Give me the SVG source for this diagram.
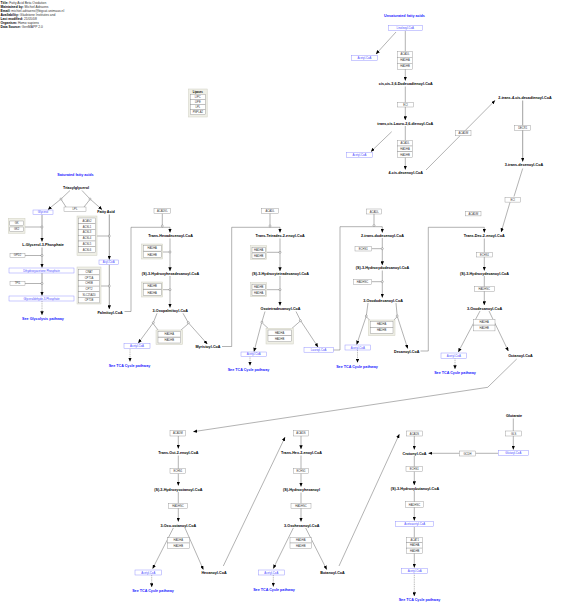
<svg xmlns="http://www.w3.org/2000/svg" width="563" height="607" viewBox="0 0 563 607">
<defs>
<marker id="ar" markerUnits="userSpaceOnUse" markerWidth="4" markerHeight="3.4" refX="3.8" refY="1.7" orient="auto"><path d="M0,0 L4,1.7 L0,3.4 z" fill="#000"/></marker>
<style>
text{font-family:"Liberation Sans",Arial,sans-serif}
.n{font-weight:bold;font-size:3.7px;text-anchor:middle;fill:#000}
.bl{font-weight:bold;font-size:3.7px;text-anchor:middle;fill:#1a1aff}
.h{font-size:3.3px;fill:#333}
.h tspan.k{font-weight:bold;fill:#000}
.g rect{fill:#fff;stroke:#8a8a8a;stroke-width:0.4}
.g text,.gt{font-size:2.7px;text-anchor:middle;fill:#333}
.m rect{fill:#fff;stroke:#8c8cff;stroke-width:0.45}
.m text{font-size:2.8px;text-anchor:middle;fill:#4a4aff}
.grp{fill:#efefe6;stroke:#cfcfc2;stroke-width:0.5}
.c path,.c line{fill:none;stroke:#555;stroke-width:0.45}
.c .th{stroke:#888;stroke-width:0.8}
.c .d{stroke-dasharray:1,0.8}
.c circle{fill:#fff;stroke:#555;stroke-width:0.4}
</style>
</defs>
<rect width="563" height="607" fill="#fff"/>

<g id="header">
<text class="h" x="0.5" y="4.3"><tspan class="k">Title: </tspan>Fatty Acid Beta Oxidation</text>
<text class="h" x="0.5" y="8.3"><tspan class="k">Maintained by: </tspan>Michiel Adriaens</text>
<text class="h" x="0.5" y="12.3"><tspan class="k">Email: </tspan>michiel.adriaens@bigcat.unimaas.nl</text>
<text class="h" x="0.5" y="16.3"><tspan class="k">Availability: </tspan>Gladstone Institutes and</text>
<text class="h" x="0.5" y="20.3"><tspan class="k">Last modified: </tspan>21/05/08</text>
<text class="h" x="0.5" y="24.3"><tspan class="k">Organism: </tspan>Homo sapiens</text>
<text class="h" x="0.5" y="28.3"><tspan class="k">Data Source: </tspan>GenMAPP 2.0</text>
</g>

<g id="connectors" class="c">
<path d="M70,190.5 L61,199 L48,209.5" marker-end="url(#ar)"/>
<path d="M82,190.5 L90,199 L102,209.5" marker-end="url(#ar)"/>
<path d="M66,207 L61.5,200"/>
<path d="M84,207 L89.5,200"/>
<path class="th" d="M42,214.5 L42,241.5" marker-end="url(#ar)"/>
<path d="M25,227 L41,227"/>
<path class="th" d="M42,247.5 L42,267.5" marker-end="url(#ar)"/>
<path d="M25,255.5 L41,255.5"/>
<path class="th" d="M42,273 L42,295.5" marker-end="url(#ar)"/>
<path d="M25,283.5 L41,283.5"/>
<path class="d" d="M42,301 L42,315" marker-end="url(#ar)"/>
<path class="th" d="M109.3,214.5 L109.3,259.5" marker-end="url(#ar)"/>
<path d="M97,236 L108.3,236"/>
<path class="th" d="M109.3,264.5 L109.3,309" marker-end="url(#ar)"/>
<path d="M101,286 L108.3,286"/>
<path d="M124.5,311.5 L131,311.5 L131,227.3 L170,227.3 L170,232.5" marker-end="url(#ar)"/>
<path d="M162.3,213.5 L162.3,225"/>
<path d="M170,238.5 L170,271" marker-end="url(#ar)"/>
<path d="M162.7,252 L169,252"/>
<path d="M170,276 L170,307.5" marker-end="url(#ar)"/>
<path d="M162.7,289.7 L169,289.7"/>
<path d="M157,313.3 L153.3,322.7 L138.3,343" marker-end="url(#ar)"/>
<path d="M183,313.3 L188.3,322.7 L207.3,344" marker-end="url(#ar)"/>
<path d="M158,330 L153.3,323.8"/>
<path d="M181,330 L188.2,323.8"/>
<path class="d" d="M130,348.7 L130,361.5" marker-end="url(#ar)"/>
<path d="M222,346.5 L231.7,346.5 L231.7,227.3 L280,227.3 L280,232.5" marker-end="url(#ar)"/>
<path d="M270,213.3 L270,225"/>
<path d="M280,238.5 L280,271" marker-end="url(#ar)"/>
<path d="M266.7,252.3 L279,252.3"/>
<path d="M280,276 L280,305.5" marker-end="url(#ar)"/>
<path d="M266.7,289.7 L279,289.7"/>
<path d="M265,311.5 L261.7,322.5 L254,351.5" marker-end="url(#ar)"/>
<path d="M296,311.5 L300.5,320.5 L318,347" marker-end="url(#ar)"/>
<path d="M268,328.3 L262.5,323.2"/>
<path d="M292,328.3 L299.8,321.5"/>
<path class="d" d="M250,356.5 L250,365.5" marker-end="url(#ar)"/>
<path d="M333.3,350 L340,350 L340,226.7 L382.3,226.7 L382.3,232.5" marker-end="url(#ar)"/>
<path d="M374,214 L374,224.5"/>
<path d="M382.3,238 L382.3,265" marker-end="url(#ar)"/>
<path d="M371.7,248.7 L381.3,248.7"/>
<path d="M382.3,270.5 L382.3,297.5" marker-end="url(#ar)"/>
<path d="M371.7,281.7 L381.3,281.7"/>
<path d="M368,303 L366.3,316 L356.7,344.5" marker-end="url(#ar)"/>
<path d="M396,303 L397.2,316 L407.7,348.5" marker-end="url(#ar)"/>
<path d="M369.5,320 L366.6,317"/>
<path d="M394,320 L396.8,317"/>
<path class="d" d="M357.5,350 L357.5,362.5" marker-end="url(#ar)"/>
<path d="M420.5,351 L428.3,351 L428.3,227.3 L484.3,227.3 L484.3,232.5" marker-end="url(#ar)"/>
<path d="M510,202.3 L501.2,232" marker-end="url(#ar)"/>
<path d="M484.3,238.5 L484.3,270.5" marker-end="url(#ar)"/>
<path d="M484.3,276 L484.3,305" marker-end="url(#ar)"/>
<path d="M480,311 L458.3,352" marker-end="url(#ar)"/>
<path d="M489,311 L508.3,351" marker-end="url(#ar)"/>
<path class="d" d="M455,358.3 L455,369" marker-end="url(#ar)"/>
<path d="M516.7,359 L487.7,387.3 L193.3,431.7" marker-end="url(#ar)"/>
<path d="M178.3,436 L178.3,448.5" marker-end="url(#ar)"/>
<path d="M178.3,455.5 L178.3,485.5" marker-end="url(#ar)"/>
<path d="M178.3,492 L178.3,521.5" marker-end="url(#ar)"/>
<path d="M173.3,528 L152.7,568.5" marker-end="url(#ar)"/>
<path d="M185,528 L203.3,569.5" marker-end="url(#ar)"/>
<path class="d" d="M151.7,575 L151.7,587" marker-end="url(#ar)"/>
<path d="M223.3,566 L285,437.3" marker-end="url(#ar)"/>
<path d="M301,436 L301,449" marker-end="url(#ar)"/>
<path d="M301,455.5 L301,486.5" marker-end="url(#ar)"/>
<path d="M301,492.5 L301,521.5" marker-end="url(#ar)"/>
<path d="M293.3,528 L273.3,568.5" marker-end="url(#ar)"/>
<path d="M305.7,528 L326.7,569.5" marker-end="url(#ar)"/>
<path class="d" d="M273.3,575 L273.3,586.5" marker-end="url(#ar)"/>
<path d="M339,566 L399.3,434.3" marker-end="url(#ar)"/>
<path d="M414.3,436 L414.3,449.5" marker-end="url(#ar)"/>
<path d="M414.3,456 L414.3,485" marker-end="url(#ar)"/>
<path d="M414.3,491 L414.3,520.5" marker-end="url(#ar)"/>
<path d="M414.3,526.7 L414.3,567.5" marker-end="url(#ar)"/>
<path class="d" d="M414.3,573.3 L414.3,596" marker-end="url(#ar)"/>
<path d="M498.3,453.3 L428.5,453.3" marker-end="url(#ar)"/>
<path d="M513.3,418.5 L513.3,449.5" marker-end="url(#ar)"/>
<path d="M396,32 L376,54" marker-end="url(#ar)"/>
<path d="M405.3,30.7 L405.3,80.5" marker-end="url(#ar)"/>
<path d="M405.3,86.5 L405.3,120" marker-end="url(#ar)"/>
<path d="M391.7,131.7 L371,151.5" marker-end="url(#ar)"/>
<path d="M405.3,126 L405.3,169.5" marker-end="url(#ar)"/>
<path d="M426,170 L495,100.5" marker-end="url(#ar)"/>
<path class="th" d="M522.7,100.5 L522.7,161.5" marker-end="url(#ar)"/>
<path d="M522.7,168.5 L514,196.5"/>
<circle cx="61" cy="199" r="1"/>
<circle cx="90" cy="199" r="1"/>
<circle cx="42" cy="227" r="1"/>
<circle cx="42" cy="255.5" r="1"/>
<circle cx="42" cy="283.5" r="1"/>
<circle cx="109.3" cy="236" r="1"/>
<circle cx="109.3" cy="286" r="1"/>
<circle cx="162.3" cy="226" r="1"/>
<circle cx="170" cy="252" r="1"/>
<circle cx="170" cy="289.7" r="1"/>
<circle cx="153.3" cy="322.7" r="1"/>
<circle cx="188.3" cy="322.7" r="1"/>
<circle cx="270" cy="226" r="1"/>
<circle cx="280" cy="252.3" r="1"/>
<circle cx="280" cy="289.7" r="1"/>
<circle cx="261.9" cy="322.2" r="1"/>
<circle cx="300.4" cy="320.7" r="1"/>
<circle cx="374" cy="225.5" r="1"/>
<circle cx="382.3" cy="248.7" r="1"/>
<circle cx="382.3" cy="281.7" r="1"/>
<circle cx="366.3" cy="316" r="1"/>
<circle cx="397.2" cy="316" r="1"/>
</g>

<g id="lipases">
<rect class="grp" x="188.5" y="89" width="18.7" height="28"/>
<text class="gt" x="197.8" y="92.8" style="font-weight:bold;fill:#000">Lipases</text>
<g class="g">
<rect x="190.3" y="94.5" width="15" height="5"/><text x="197.8" y="97.9">LIPC</text>
<rect x="190.3" y="99.5" width="15" height="5"/><text x="197.8" y="102.9">LIPE</text>
<rect x="190.3" y="104.5" width="15" height="5"/><text x="197.8" y="107.9">LPL</text>
<rect x="190.3" y="109.5" width="15" height="5"/><text x="197.8" y="112.9">PNPLA2</text>
</g>
</g>

<g id="sat-title"><text class="bl" x="75.5" y="176">Saturated fatty acids</text></g>
<g id="triacylglycerol"><text class="n" x="76" y="189.3">Triacylglycerol</text></g>
<g id="lpl" class="g"><rect x="64" y="207" width="22" height="4.3"/><text x="75" y="210.1">LPL</text></g>
<g id="glycerol" class="m"><rect x="33" y="210" width="20" height="4.5"/><text x="43" y="213.2">Glycerol</text></g>
<g id="fatty-acid"><text class="n" x="106" y="213.3">Fatty Acid</text></g>
<g id="gk-group">
<rect class="grp" x="8.3" y="218.3" width="16.7" height="15"/>
<g class="g"><rect x="9.8" y="221" width="13.7" height="4.5"/><text x="16.6" y="224.2">GK</text>
<rect x="9.8" y="227" width="13.7" height="4.5"/><text x="16.6" y="230.2">GK2</text></g>
</g>
<g id="l-g3p"><text class="n" x="43" y="246.3">L-Glycerol-3-Phosphate</text></g>
<g id="gpd2" class="g"><rect x="10" y="253.2" width="15" height="4.5"/><text x="17.5" y="256.4">GPD2</text></g>
<g id="dhap" class="m"><rect x="9" y="268" width="65" height="5"/><text x="41.5" y="271.5">Dihydroxyacetone Phosphate</text></g>
<g id="tpi1" class="g"><rect x="10" y="281.2" width="15" height="4.5"/><text x="17.5" y="284.4">TPI1</text></g>
<g id="g3p" class="m"><rect x="9" y="296" width="65" height="5"/><text x="41.5" y="299.5">Glyceraldehyde-3-Phosphate</text></g>
<g id="see-glycolysis"><text class="bl" x="43" y="319.6">See Glycolysis pathway</text></g>

<g id="acsl-group">
<rect class="grp" x="77" y="216" width="20" height="39.5"/>
<g class="g">
<rect x="78.5" y="218" width="17" height="5.75"/><text x="87" y="221.9">ACAS2</text>
<rect x="78.5" y="223.75" width="17" height="5.75"/><text x="87" y="227.6">ACSL1</text>
<rect x="78.5" y="229.5" width="17" height="5.75"/><text x="87" y="233.4">ACSL3</text>
<rect x="78.5" y="235.25" width="17" height="5.75"/><text x="87" y="239.1">ACSL4</text>
<rect x="78.5" y="241" width="17" height="5.75"/><text x="87" y="244.9">ACSL5</text>
<rect x="78.5" y="246.75" width="17" height="5.75"/><text x="87" y="250.6">ACSL6</text>
</g>
</g>
<g id="acyl-coa" class="m"><rect x="99" y="260" width="19.5" height="4.5"/><text x="108.7" y="263.2">Acyl-CoA</text></g>
<g id="cpt-group">
<rect class="grp" x="77" y="267" width="24" height="37"/>
<g class="g">
<rect x="78.5" y="269.3" width="21" height="5.6"/><text x="89" y="273.1">CRAT</text>
<rect x="78.5" y="274.9" width="21" height="5.6"/><text x="89" y="278.7">CPT1A</text>
<rect x="78.5" y="280.5" width="21" height="5.6"/><text x="89" y="284.3">CHKB</text>
<rect x="78.5" y="286.1" width="21" height="5.6"/><text x="89" y="289.9">CPT2</text>
<rect x="78.5" y="291.7" width="21" height="5.6"/><text x="89" y="295.5">SLC25A20</text>
<rect x="78.5" y="297.3" width="21" height="5.6"/><text x="89" y="301.1">CPT1B</text>
</g>
</g>
<g id="palmitoyl-coa"><text class="n" x="110" y="313.6">Palmitoyl-CoA</text></g>

<g id="acadvl" class="g"><rect x="154" y="208.5" width="16.7" height="5"/><text x="162.3" y="212">ACADVL</text></g>
<g id="trans-hexadecenoyl"><text class="n" x="170.5" y="237.3">Trans-Hexadecenoyl-CoA</text></g>
<g id="grp-c16a"><rect class="grp" x="141.7" y="244" width="21" height="15"/>
<g class="g"><rect x="143.2" y="245.6" width="18" height="5.5"/><text x="152.2" y="249.3">HADHA</text>
<rect x="143.2" y="251.8" width="18" height="5.5"/><text x="152.2" y="255.5">HADHB</text></g></g>
<g id="s3-hydroxyhexadecanoyl"><text class="n" x="170.5" y="275">(S)-3-Hydroxyhexadecanoyl-CoA</text></g>
<g id="grp-c16b"><rect class="grp" x="141.7" y="282" width="21" height="15"/>
<g class="g"><rect x="143.2" y="283.6" width="18" height="5.5"/><text x="152.2" y="287.3">HADHB</text>
<rect x="143.2" y="289.8" width="18" height="5.5"/><text x="152.2" y="293.5">HADHA</text></g></g>
<g id="oxopalmitoyl"><text class="n" x="170.3" y="311.6">3-Oxopalmitoyl-CoA</text></g>
<g id="grp-c16c"><rect class="grp" x="156" y="330" width="26.7" height="14.5"/>
<g class="g"><rect x="158" y="331.5" width="22.7" height="5.5"/><text x="169.3" y="335.2">HADHA</text>
<rect x="158" y="337.5" width="22.7" height="5.5"/><text x="169.3" y="341.2">HADHB</text></g></g>
<g id="acetyl-c16" class="m"><rect x="124" y="343.7" width="26" height="5"/><text x="137" y="347.2">Acetyl-CoA</text></g>
<g id="tca-c16"><text class="bl" x="129.5" y="367">See TCA Cycle pathway</text></g>
<g id="myristoyl-coa"><text class="n" x="208" y="348">Myristoyl-CoA</text></g>

<g id="acadl-c14" class="g"><rect x="261.7" y="208.3" width="16.6" height="5"/><text x="270" y="211.8">ACADL</text></g>
<g id="trans-tetradec"><text class="n" x="280" y="237.3">Trans-Tetradec-2-enoyl-CoA</text></g>
<g id="grp-c14a"><rect class="grp" x="250.7" y="245.7" width="16" height="13.6"/>
<g class="g"><rect x="252" y="247.4" width="13.4" height="5.2"/><text x="258.7" y="251">HADHA</text>
<rect x="252" y="253" width="13.4" height="5.2"/><text x="258.7" y="256.6">HADHB</text></g></g>
<g id="s3-hydroxytetradecanoyl"><text class="n" x="280.5" y="275">(S)-3-Hydroxytetradecanoyl-CoA</text></g>
<g id="grp-c14b"><rect class="grp" x="250.7" y="282.7" width="16" height="14"/>
<g class="g"><rect x="252" y="284.4" width="13.4" height="5.2"/><text x="258.7" y="288">HADHB</text>
<rect x="252" y="290" width="13.4" height="5.2"/><text x="258.7" y="293.6">HADHA</text></g></g>
<g id="oxotetradecanoyl"><text class="n" x="280.5" y="309.6">Oxotetradecanoyl-CoA</text></g>
<g id="grp-c14c"><rect class="grp" x="266" y="328.3" width="27.3" height="15.7"/>
<g class="g"><rect x="268" y="330" width="23.3" height="5.8"/><text x="279.6" y="333.9">HADHA</text>
<rect x="268" y="335.8" width="23.3" height="5.8"/><text x="279.6" y="339.7">HADHB</text></g></g>
<g id="acetyl-c14" class="m"><rect x="241" y="352" width="25.5" height="4.5"/><text x="253.7" y="355.2">Acetyl-CoA</text></g>
<g id="tca-c14"><text class="bl" x="248.5" y="370.8">See TCA Cycle pathway</text></g>
<g id="lauroyl-coa" class="m"><rect x="304" y="347.5" width="29.3" height="4.7"/><text x="318.6" y="350.8">Lauroyl-CoA</text></g>

<g id="acadl-c12" class="g"><rect x="366.7" y="209" width="15" height="5"/><text x="374.2" y="212.5">ACADL</text></g>
<g id="trans-dodecenoyl"><text class="n" x="382.5" y="237">2-trans-dodecenoyl-CoA</text></g>
<g id="echs1-c12" class="g"><rect x="355" y="246.5" width="16.7" height="4.5"/><text x="363.3" y="249.7">ECHS1</text></g>
<g id="s3-hydroxydodecanoyl"><text class="n" x="382.5" y="269">(S)-3-Hydroxydodecanoyl-CoA</text></g>
<g id="hadhsc-c12" class="g"><rect x="353.3" y="279.3" width="18.4" height="5"/><text x="362.5" y="282.8">HADHSC</text></g>
<g id="oxododecanoyl"><text class="n" x="383" y="301.6">3-Oxododecanoyl-CoA</text></g>
<g id="grp-c12"><rect class="grp" x="368.3" y="320" width="26.7" height="15.7"/>
<g class="g"><rect x="370.3" y="321.5" width="22.7" height="5.8"/><text x="381.6" y="325.4">HADHA</text>
<rect x="370.3" y="327.5" width="22.7" height="5.8"/><text x="381.6" y="331.4">HADHB</text></g></g>
<g id="acetyl-c12" class="m"><rect x="345" y="345" width="25.7" height="5"/><text x="357.8" y="348.5">Acetyl-CoA</text></g>
<g id="tca-c12"><text class="bl" x="357" y="368.4">See TCA Cycle pathway</text></g>
<g id="decanoyl-coa"><text class="n" x="406.7" y="353">Decanoyl-CoA</text></g>

<g id="acadm-c10" class="g"><rect x="465.7" y="211.7" width="15.3" height="4.2"/><text x="473.3" y="214.8">ACADM</text></g>
<g id="eci-c10" class="g"><rect x="505" y="197.5" width="15.5" height="4.6"/><text x="512.7" y="200.8">ECI</text></g>
<g id="trans-dec"><text class="n" x="484.2" y="237.3">Trans-Dec-2-enoyl-CoA</text></g>
<g id="echs1-c10" class="g"><rect x="476.7" y="252.3" width="15.6" height="4.7"/><text x="484.5" y="255.6">ECHS1</text></g>
<g id="s3-hydroxydecanoyl"><text class="n" x="484.5" y="275">(S)-3-Hydroxydecanoyl-CoA</text></g>
<g id="hadhsc-c10" class="g"><rect x="474.3" y="286.7" width="20" height="4.6"/><text x="484.3" y="290">HADHSC</text></g>
<g id="oxodecanoyl"><text class="n" x="484.5" y="309.6">3-Oxodecanoyl-CoA</text></g>
<g id="hadh-c10" class="g"><rect x="473.3" y="319.3" width="21.7" height="5.8"/><text x="484.2" y="323.2">HADHA</text>
<rect x="473.3" y="325.1" width="21.7" height="5.8"/><text x="484.2" y="329">HADHB</text></g>
<g id="acetyl-c10" class="m"><rect x="441" y="353" width="25.7" height="5.3"/><text x="453.8" y="356.6">Acetyl-CoA</text></g>
<g id="tca-c10"><text class="bl" x="455" y="374">See TCA Cycle pathway</text></g>
<g id="octanoyl-coa"><text class="n" x="520.5" y="357">Octanoyl-CoA</text></g>

<g id="acadm-c8" class="g"><rect x="170" y="430.7" width="15.7" height="5.3"/><text x="177.9" y="434.3">ACADM</text></g>
<g id="trans-oct"><text class="n" x="178.3" y="453.6">Trans-Oct-2-enoyl-CoA</text></g>
<g id="echs1-c8" class="g"><rect x="170" y="468.7" width="15.7" height="5"/><text x="177.9" y="472.2">ECHS1</text></g>
<g id="s3-hydroxyoctanoyl"><text class="n" x="178.3" y="490.6">(S)-3-Hydroxyoctanoyl-CoA</text></g>
<g id="hadhsc-c8" class="g"><rect x="168.3" y="503.3" width="19.4" height="5"/><text x="178" y="506.8">HADHSC</text></g>
<g id="oxo-octanoyl"><text class="n" x="178.3" y="526.6">3-Oxo-octanoyl-CoA</text></g>
<g id="hadh-c8" class="g"><rect x="167.3" y="537.7" width="22" height="5.3"/><text x="178.3" y="541.3">HADHA</text>
<rect x="167.3" y="543" width="22" height="5.3"/><text x="178.3" y="546.6">HADHB</text></g>
<g id="acetyl-c8" class="m"><rect x="135" y="570" width="26.7" height="5"/><text x="148.3" y="573.5">Acetyl-CoA</text></g>
<g id="tca-c8"><text class="bl" x="153" y="592">See TCA Cycle pathway</text></g>
<g id="hexanoyl-coa"><text class="n" x="214" y="574">Hexanoyl-CoA</text></g>

<g id="acads-c6" class="g"><rect x="293.3" y="430.7" width="15.4" height="5.3"/><text x="301" y="434.3">ACADS</text></g>
<g id="trans-hex"><text class="n" x="301.5" y="454">Trans-Hex-2-enoyl-CoA</text></g>
<g id="echs1-c6" class="g"><rect x="293.3" y="468.7" width="15.4" height="5"/><text x="301" y="472.2">ECHS1</text></g>
<g id="s-hydroxyhexanoyl"><text class="n" x="301.5" y="491.3">(S)-Hydroxyhexanoyl</text></g>
<g id="hadhsc-c6" class="g"><rect x="291" y="503.3" width="20" height="5"/><text x="301" y="506.8">HADHSC</text></g>
<g id="oxohexanoyl"><text class="n" x="301.7" y="526.6">3-Oxohexanoyl-CoA</text></g>
<g id="hadh-c6" class="g"><rect x="290" y="537.7" width="21.7" height="5.3"/><text x="300.8" y="541.3">HADHA</text>
<rect x="290" y="543" width="21.7" height="5.3"/><text x="300.8" y="546.6">HADHB</text></g>
<g id="acetyl-c6" class="m"><rect x="258.3" y="570" width="26" height="5"/><text x="271.3" y="573.5">Acetyl-CoA</text></g>
<g id="tca-c6"><text class="bl" x="274" y="591.3">See TCA Cycle pathway</text></g>
<g id="butanoyl-coa"><text class="n" x="332.5" y="574">Butanoyl-CoA</text></g>

<g id="acads-c4" class="g"><rect x="406.7" y="431" width="15.6" height="5"/><text x="414.5" y="434.5">ACADS</text></g>
<g id="crotonyl-coa"><text class="n" x="414.5" y="454.6">Crotonyl-CoA</text></g>
<g id="gcdh" class="g"><rect x="459.3" y="451" width="16.4" height="5"/><text x="467.5" y="454.5">GCDH</text></g>
<g id="echs1-c4" class="g"><rect x="406" y="466.7" width="16.7" height="5"/><text x="414.3" y="470.2">ECHS1</text></g>
<g id="s3-hydroxybutanoyl"><text class="n" x="415" y="489.6">(S)-3-Hydroxybutanoyl-CoA</text></g>
<g id="hadhsc-c4" class="g"><rect x="405.7" y="501.7" width="17.6" height="5.6"/><text x="414.5" y="505.5">HADHSC</text></g>
<g id="acetoacetyl-coa" class="m"><rect x="395.7" y="521.7" width="38" height="5"/><text x="414.7" y="525.2">Acetoacetyl-CoA</text></g>
<g id="acat1-group" class="g"><rect x="406.7" y="537.3" width="16" height="5.4"/><text x="414.7" y="541">ACAT1</text>
<rect x="406.7" y="542.7" width="16" height="5.4"/><text x="414.7" y="546.4">HADHA</text>
<rect x="406.7" y="548.1" width="16" height="5.4"/><text x="414.7" y="551.8">HADHB</text></g>
<g id="acetyl-c4" class="m"><rect x="401.7" y="568.7" width="26" height="4.7"/><text x="414.7" y="572">Acetyl-CoA</text></g>
<g id="tca-c4"><text class="bl" x="419.5" y="601.3">See TCA Cycle pathway</text></g>
<g id="glutarate"><text class="n" x="514" y="417">Glutarate</text></g>
<g id="gls" class="g"><rect x="505.7" y="431" width="16" height="5"/><text x="513.7" y="434.5">GLS</text></g>
<g id="glutaryl-coa" class="m"><rect x="498.3" y="450.3" width="30" height="5.4"/><text x="513.3" y="453.9">Glutaryl-CoA</text></g>

<g id="unsat-title"><text class="bl" x="404.5" y="17">Unsaturated fatty acids</text></g>
<g id="linoleoyl-coa" class="m"><rect x="388.3" y="25.3" width="34" height="5.4"/><text x="405.3" y="29">Linoleoyl-CoA</text></g>
<g id="acetyl-u1" class="m"><rect x="351.7" y="55.3" width="25.6" height="5.4"/><text x="364.5" y="59">Acetyl-CoA</text></g>
<g id="enz-u1" class="g"><rect x="397.3" y="51.3" width="15.4" height="6"/><text x="405" y="55.3">ACADL</text>
<rect x="397.3" y="57.3" width="15.4" height="6"/><text x="405" y="61.3">HADHA</text>
<rect x="397.3" y="63.3" width="15.4" height="6"/><text x="405" y="67.3">HADHB</text></g>
<g id="dodecadienoyl"><text class="n" x="405.8" y="85.3">cis,cis-3,6-Dodecadienoyl-CoA</text></g>
<g id="eci-u" class="g"><rect x="397.7" y="102.3" width="15.6" height="4.7"/><text x="405.5" y="105.6">ECI</text></g>
<g id="lauro-dienoyl"><text class="n" x="405.3" y="124.6">trans,cis-Lauro-2,6-dienoyl-CoA</text></g>
<g id="acetyl-u2" class="m"><rect x="346.7" y="152.3" width="25.6" height="5.4"/><text x="359.5" y="156">Acetyl-CoA</text></g>
<g id="enz-u2" class="g"><rect x="397.3" y="140.2" width="15.4" height="5.8"/><text x="405" y="144.1">ACADL</text>
<rect x="397.3" y="146" width="15.4" height="5.8"/><text x="405" y="149.9">HADHA</text>
<rect x="397.3" y="151.8" width="15.4" height="5.8"/><text x="405" y="155.7">HADHB</text></g>
<g id="cis-decenoyl"><text class="n" x="405.8" y="174">4-cis-decenoyl-CoA</text></g>
<g id="acadm-u" class="g"><rect x="455.7" y="130.5" width="15.3" height="5.3"/><text x="463.3" y="134.1">ACADM</text></g>
<g id="decadienoyl"><text class="n" x="525" y="98.6">2-trans-4-cis-decadienoyl-CoA</text></g>
<g id="decr1" class="g"><rect x="514.5" y="125.3" width="16.3" height="5"/><text x="522.7" y="128.8">DECR1</text></g>
<g id="trans-decenoyl"><text class="n" x="524" y="166.3">3-trans-decenoyl-CoA</text></g>
</svg>
